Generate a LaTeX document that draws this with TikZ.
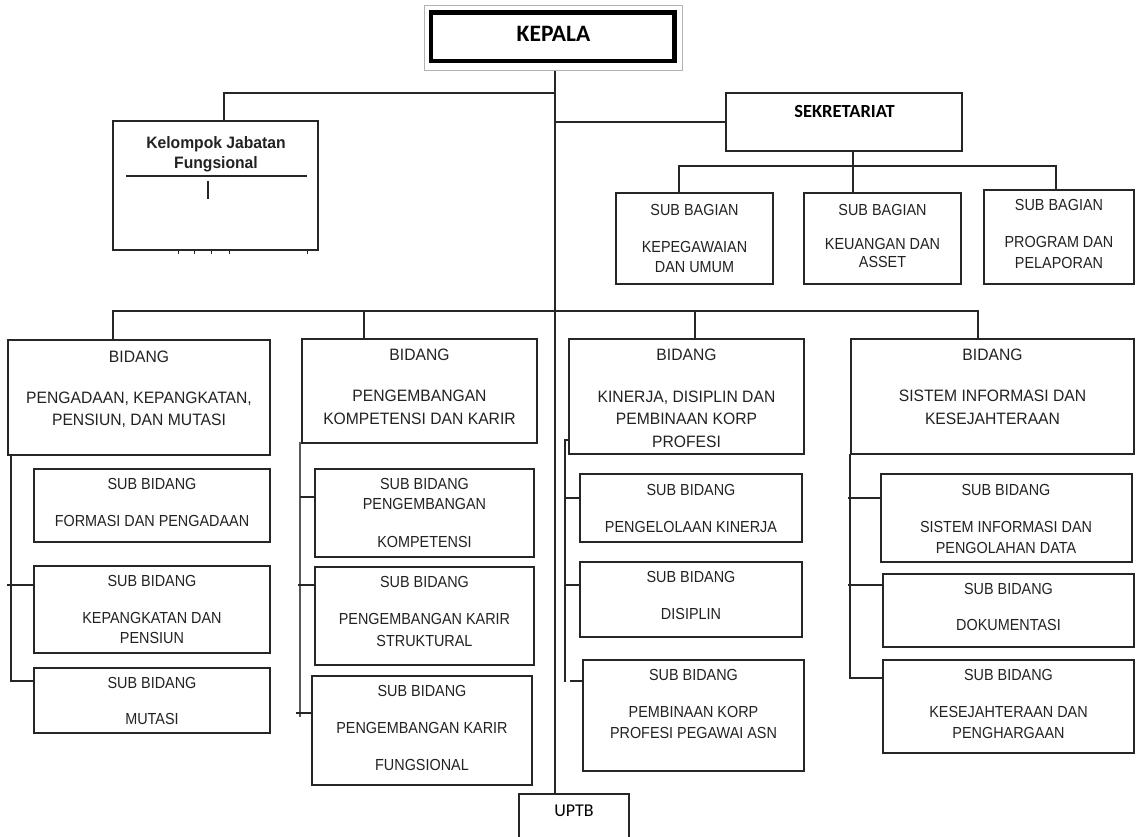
\documentclass[tikz,border=0pt]{standalone}
\usepackage{fontspec}
\setmainfont{Liberation Sans}
\newfontfamily\carl{Carlito}
\newfontfamily\arl[FakeStretch=0.95]{Liberation Sans}
\newfontfamily\arlc[FakeStretch=0.9]{Liberation Sans}
\definecolor{lc}{HTML}{262626}
\definecolor{tc}{HTML}{222222}
\newcommand\mkbox[6][]{\node[bx,#1,minimum width={#5-#3},minimum height={#6-#4}] (#2) at ({(#3+#5)/2},{(#4+#6)/2}) {};}
\newcommand\txl[5][sh]{\node[#1] (#2) at (#3,#4) {#5};}
\tikzset{
  bx/.style={draw=lc,line width=1.1pt,inner sep=0pt,outer sep=0pt},
  ln/.style={draw=lc,line width=1.1pt},
  bh/.style={inner sep=0pt,outer sep=0pt,text=tc,font=\arl\fontsize{16.5}{19}\selectfont,text height=11.8pt,text depth=0pt},
  sh/.style={inner sep=0pt,outer sep=0pt,text=tc,font=\arlc\fontsize{16}{19}\selectfont,text height=11.5pt,text depth=0pt},
  kb/.style={inner sep=0pt,outer sep=0pt,text=tc,font=\arl\bfseries\fontsize{16.5}{19}\selectfont,text height=11.8pt,text depth=0pt},
}
\begin{document}
\begin{tikzpicture}[x=1pt,y=-1pt]
\useasboundingbox (0,0) rectangle (1136,836);
\clip (0,0) rectangle (1136,836);
\fill[white] (0,0) rectangle (1136,836);

% boxes
\mkbox[draw=gray!60,line width=1pt]{kep}{424}{5.5}{682}{70.5}
\mkbox[draw=black,line width=4.5pt]{kepin}{431}{12.5}{674.7}{60.8}
\mkbox[line width=1.4pt]{kel}{113}{121}{318}{250}
\mkbox[line width=2pt]{sek}{726}{93}{962}{151}
\mkbox{sb1}{616}{193}{773}{284}
\mkbox{sb2}{804}{193}{961}{284}
\mkbox{sb3}{984}{190}{1134}{284}
\mkbox{b1}{8}{340}{270}{455}
\mkbox{b2}{302}{339}{537}{443}
\mkbox{b3}{569}{339}{804}{454}
\mkbox{b4}{851}{339}{1134}{454}
\mkbox{s11}{34}{469}{270}{542}
\mkbox{s12}{34}{566}{270}{653}
\mkbox{s13}{34}{668}{270}{733}
\mkbox{s21}{315}{469}{534}{557}
\mkbox{s22}{315}{567}{534}{665}
\mkbox{s23}{312}{676}{532}{785}
\mkbox{s31}{580}{474}{802}{542}
\mkbox{s32}{580}{562}{802}{637}
\mkbox{s33}{583}{660}{804}{771}
\mkbox{s41}{881}{474}{1132}{562}
\mkbox{s42}{883}{574}{1134}{647}
\mkbox{s43}{883}{660}{1134}{753}
\mkbox{uptb}{519}{794}{629}{850}

% titles
\node[inner sep=0pt,text=black,font=\carl\bfseries\fontsize{23.5}{26}\selectfont,text height=15.1pt,text depth=0pt] (kept) at (553.5,33.7) {KEPALA};
\node[inner sep=0pt,text=black,font=\carl\bfseries\fontsize{18.5}{22}\selectfont,text height=11.9pt,text depth=0pt] (sekt) at (844.5,112) {SEKRETARIAT};
\node[inner sep=0pt,text=black,font=\carl\fontsize{18}{22}\selectfont,text height=11.6pt,text depth=0pt] (uptbt) at (574,811) {UPTB};
\txl[kb]{kela}{216}{142.8}{Kelompok Jabatan}
\txl[kb]{kelb}{216}{162.7}{Fungsional}

% sub bagian
\txl{sb1a}{694.5}{209.5}{SUB BAGIAN}
\txl{sb1b}{694.5}{246.5}{KEPEGAWAIAN}
\txl{sb1c}{694.5}{267}{DAN UMUM}
\txl{sb2a}{882.5}{209.3}{SUB BAGIAN}
\txl{sb2b}{882.5}{243.3}{KEUANGAN DAN}
\txl{sb2c}{882.5}{261.7}{ASSET}
\txl{sb3a}{1059}{205}{SUB BAGIAN}
\txl{sb3b}{1059}{241.7}{PROGRAM DAN}
\txl{sb3c}{1059}{262.7}{PELAPORAN}

% bidang
\txl[bh]{b1a}{139}{357}{BIDANG}
\txl[bh]{b1b}{139}{398}{PENGADAAN, KEPANGKATAN,}
\txl[bh]{b1c}{139}{420}{PENSIUN, DAN MUTASI}
\txl[bh]{b2a}{419.5}{355}{BIDANG}
\txl[bh]{b2b}{419.5}{396}{PENGEMBANGAN}
\txl[bh]{b2c}{419.5}{419}{KOMPETENSI DAN KARIR}
\txl[bh]{b3a}{686.5}{355}{BIDANG}
\txl[bh]{b3b}{686.5}{397}{KINERJA, DISIPLIN DAN}
\txl[bh]{b3c}{686.5}{419}{PEMBINAAN KORP}
\txl[bh]{b3d}{686.5}{442}{PROFESI}
\txl[bh]{b4a}{992.5}{355}{BIDANG}
\txl[bh]{b4b}{992.5}{396}{SISTEM INFORMASI DAN}
\txl[bh]{b4c}{992.5}{419}{KESEJAHTERAAN}

% sub bidang
\txl{s11a}{152}{484}{SUB BIDANG}
\txl{s11b}{152}{521}{FORMASI DAN PENGADAAN}
\txl{s12a}{152}{581}{SUB BIDANG}
\txl{s12b}{152}{618}{KEPANGKATAN DAN}
\txl{s12c}{152}{638}{PENSIUN}
\txl{s13a}{152}{683}{SUB BIDANG}
\txl{s13b}{152}{719}{MUTASI}
\txl{s21a}{424.5}{484}{SUB BIDANG}
\txl{s21b}{424.5}{504}{PENGEMBANGAN}
\txl{s21c}{424.5}{542}{KOMPETENSI}
\txl{s22a}{424.5}{582}{SUB BIDANG}
\txl{s22b}{424.5}{619}{PENGEMBANGAN KARIR}
\txl{s22c}{424.5}{641}{STRUKTURAL}
\txl{s23a}{422}{691}{SUB BIDANG}
\txl{s23b}{422}{728}{PENGEMBANGAN KARIR}
\txl{s23c}{422}{765}{FUNGSIONAL}
\txl{s31a}{691}{490}{SUB BIDANG}
\txl{s31b}{691}{527}{PENGELOLAAN KINERJA}
\txl{s32a}{691}{577}{SUB BIDANG}
\txl{s32b}{691}{614}{DISIPLIN}
\txl{s33a}{693.5}{675}{SUB BIDANG}
\txl{s33b}{693.5}{712}{PEMBINAAN KORP}
\txl{s33c}{693.5}{733}{PROFESI PEGAWAI ASN}
\txl{s41a}{1006}{490}{SUB BIDANG}
\txl{s41b}{1006}{527}{SISTEM INFORMASI DAN}
\txl{s41c}{1006}{548}{PENGOLAHAN DATA}
\txl{s42a}{1008.5}{589}{SUB BIDANG}
\txl{s42b}{1008.5}{625}{DOKUMENTASI}
\txl{s43a}{1008.5}{675}{SUB BIDANG}
\txl{s43b}{1008.5}{712}{KESEJAHTERAAN DAN}
\txl{s43c}{1008.5}{733}{PENGHARGAAN}

% Kelompok inner marks
\draw[ln] (126,176) -- (307,176);
\draw[ln,line width=1.4pt] (208,181) -- (208,199);
\foreach \x in {178,194,211,229,307} \draw[ln,line width=0.8pt] (\x,250) -- (\x,254);

% main spine
\coordinate (sp) at (555,0);
\draw[ln,line width=1.3pt] (kep.south -| sp) -- (uptb.north -| sp);

% kelompok
\coordinate (kx) at (224,93);
\draw[ln] (sp |- kx) -- (kx) -- (kx |- kel.north);

% sekretariat
\draw[ln] (sp |- sek.west) -- (sek.west);
\coordinate (sbus) at (853,166);
\coordinate (sbl) at (679,166);
\coordinate (sbr) at (1056,166);
\draw[ln] (sbus |- sek.south) -- (sbus) -- (sbus |- sb2.north);
\draw[ln] (sbl |- sb1.north) -- (sbl) -- (sbr) -- (sbr |- sb3.north);

% bidang bus
\coordinate (bb1) at (113,311);
\coordinate (bb2) at (364,311);
\coordinate (bb3) at (695,311);
\coordinate (bb4) at (978,311);
\draw[ln] (bb1 |- b1.north) -- (bb1) -- (bb4) -- (bb4 |- b4.north);
\draw[ln] (bb2) -- (bb2 |- b2.north);
\draw[ln] (bb3) -- (bb3 |- b3.north);

% column 1
\coordinate (c1) at (11,681);
\draw[ln] (c1 |- b1.south) -- (c1) -- (c1 -| s13.west);
\coordinate (c1t) at (7,585);
\draw[ln] (c1t) -- (c1t -| s12.west);

% column 2
\coordinate (c2) at (300,442);
\coordinate (c2e) at (300,717);
\draw[ln,line width=1.6pt,draw=gray!70!black] (c2) -- (c2e);
\coordinate (c2a) at (300,497);
\draw[ln] (c2a) -- (c2a -| s21.west);
\coordinate (c2b) at (298,585);
\draw[ln] (c2b) -- (c2b -| s22.west);
\coordinate (c2c) at (296,713);
\draw[ln] (c2c) -- (c2c -| s23.west);

% column 3
\coordinate (c3) at (565,440);
\coordinate (c3e) at (565,682);
\draw[ln] (c3 -| b3.west) -- (c3) -- (c3e);
\coordinate (c3a) at (565,498);
\draw[ln] (c3a) -- (c3a -| s31.west);
\coordinate (c3b) at (565,585);
\draw[ln] (c3b) -- (c3b -| s32.west);
\coordinate (c3c) at (570,681);
\draw[ln] (c3c) -- (c3c -| s33.west);

% column 4
\coordinate (c4) at (850,678);
\draw[ln] (c4 |- b4.south) -- (c4) -- (c4 -| s43.west);
\coordinate (c4a) at (848,498);
\draw[ln] (c4a) -- (c4a -| s41.west);
\coordinate (c4b) at (848,585);
\draw[ln] (c4b) -- (c4b -| s42.west);
\end{tikzpicture}
\end{document}
